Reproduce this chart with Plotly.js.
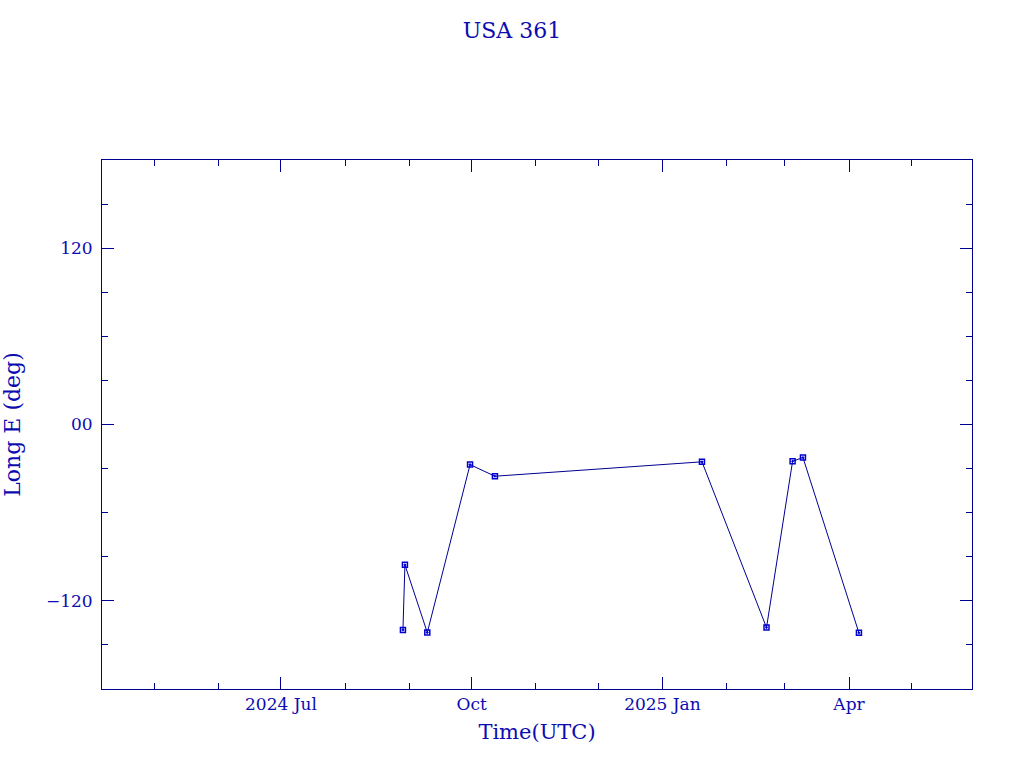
<!DOCTYPE html>
<html>
<head>
<meta charset="utf-8">
<script src="https://cdn.plot.ly/plotly-3.0.1.min.js"></script>
<style>html,body{margin:0;padding:0;background:#fff;}#chart{width:1024px;height:768px;}</style>
</head>
<body>
<div id="chart"></div>
<script>
var dates = ['2024-08-28 20:00','2024-08-29 19:00','2024-09-09 14:00','2024-09-30 05:00','2024-10-12 05:00',
             '2025-01-20 02:00','2025-02-20 05:00','2025-03-04 19:00','2025-03-09 19:00','2025-04-05 19:00'];
var longE = [-139.8, -95.5, -141.6, -27.3, -35.2, -25.4, -138.2, -25.0, -22.5, -141.8];

var xTickVals = ['2024-07-01','2024-10-01','2025-01-01','2025-04-01'];
var xTickText = ['2024 Jul','Oct','2025 Jan','Apr'];
var yTickVals = [-120, 0, 120];
var yTickText = ['\u2212120','00','120'];

var lineCol = '#000090';
var textCol = '#0c0cb0';
var fontFam = 'DejaVu Serif, Liberation Serif, serif';

var trace = {
  x: dates, y: longE, type: 'scatter', mode: 'lines+markers',
  line: {color: lineCol, width: 1},
  marker: {symbol: 'square-open-dot', size: 5, color: '#0000d0', line: {width: 1.5, color: '#0000d0'}},
  hoverinfo: 'x+y'
};

var layout = {
  width: 1024, height: 768,
  paper_bgcolor: '#fff', plot_bgcolor: '#fff',
  margin: {l: 102, r: 52, t: 160, b: 79, pad: 0},
  showlegend: false,
  font: {family: fontFam, color: textCol, size: 17},
  title: {text: 'USA 361', x: 0.5, xanchor: 'center', y: 0.961, yanchor: 'middle',
          font: {family: fontFam, size: 22, color: textCol}},
  xaxis: {
    type: 'date', range: ['2024-04-05 16:00', '2025-05-30 08:00'],
    tickmode: 'array', tickvals: xTickVals, ticktext: xTickText,
    ticks: 'inside', ticklen: 12, tickwidth: 1, tickcolor: lineCol,
    minor: {tickmode: 'linear', tick0: '2024-01-01', dtick: 'M1', ticks: 'inside', ticklen: 6, tickwidth: 1, tickcolor: lineCol, showgrid: false},
    showline: true, linecolor: lineCol, linewidth: 1, mirror: 'allticks',
    showgrid: false, zeroline: false,
    tickfont: {family: fontFam, size: 17, color: textCol},
    title: {text: 'Time(UTC)', standoff: 10, font: {family: fontFam, size: 21, color: textCol}}
  },
  yaxis: {
    range: [-180, 180],
    tickmode: 'array', tickvals: yTickVals, ticktext: yTickText,
    ticks: 'inside', ticklen: 12, tickwidth: 1, tickcolor: lineCol,
    ticklabelstandoff: 5,
    minor: {tickmode: 'linear', tick0: 0, dtick: 30, ticks: 'inside', ticklen: 6, tickwidth: 1, tickcolor: lineCol, showgrid: false},
    showline: true, linecolor: lineCol, linewidth: 1, mirror: 'allticks',
    showgrid: false, zeroline: false,
    tickfont: {family: fontFam, size: 17, color: textCol},
    title: {text: 'Long E (deg)', standoff: 22, font: {family: fontFam, size: 22, color: textCol}}
  }
};

Plotly.newPlot('chart', [trace], layout, {displayModeBar: false, staticPlot: true});
</script>
</body>
</html>
